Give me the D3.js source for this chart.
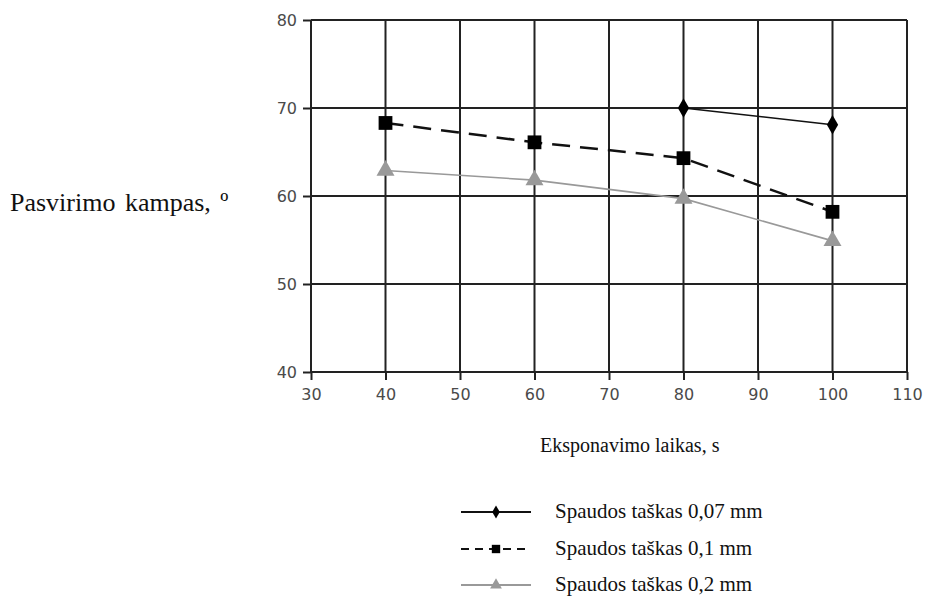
<!DOCTYPE html>
<html>
<head>
<meta charset="utf-8">
<script src="https://cdn.jsdelivr.net/npm/d3@7"></script>
<style>
  body { margin: 0; background: #fff; }
  .tick text { font-family: "DejaVu Sans", Verdana, sans-serif; fill: #4a4a4a; }
  .title { font-family: "Liberation Serif", "Times New Roman", serif; font-size: 21px; fill: #111; }
</style>
</head>
<body>
<svg id="chart"></svg>
<script>
// values
let xTicks = [30, 40, 50, 60, 70, 80, 90, 100, 110];
let yTicks = [40, 50, 60, 70, 80];
let seriesNames = ["Spaudos taškas 0,07 mm", "Spaudos taškas 0,1 mm", "Spaudos taškas 0,2 mm"];
let x007 = [80, 100];
let y007 = [70, 68.1];
let x01 = [40, 60, 80, 100];
let y01 = [68.3, 66.1, 64.3, 58.2];
let x02 = [40, 60, 80, 100];
let y02 = [62.9, 61.8, 59.7, 54.9];

function makeChart() {
  let w = 925, h = 601;
  let svg = d3.select("#chart").attr("width", w).attr("height", h);

  let x = d3.scaleLinear().domain([30, 110]).range([311, 907]);
  let y = d3.scaleLinear().domain([40, 80]).range([372, 20]);

  // grid
  svg.append("g").selectAll("line").data(xTicks).enter().append("line")
    .attr("x1", d => x(d)).attr("x2", d => x(d))
    .attr("y1", y(80)).attr("y2", y(40))
    .attr("stroke", "#222").attr("stroke-width", 2);
  svg.append("g").selectAll("line").data(yTicks).enter().append("line")
    .attr("x1", x(30)).attr("x2", x(110))
    .attr("y1", d => y(d)).attr("y2", d => y(d))
    .attr("stroke", "#222").attr("stroke-width", 2);

  let xAxis = svg.append("g").attr("transform", "translate(0," + y(40) + ")")
    .call(d3.axisBottom(x).tickValues(xTicks).tickSize(8).tickPadding(9));
  let yAxis = svg.append("g").attr("transform", "translate(" + x(30) + ",0)")
    .call(d3.axisLeft(y).tickValues(yTicks).tickSize(8).tickPadding(6));
  [xAxis, yAxis].forEach(a => {
    a.select(".domain").remove();
    a.selectAll(".tick line").attr("stroke", "#222").attr("stroke-width", 2);
    a.selectAll(".tick text").attr("font-size", "16px");
  });

  let line = d3.line().x(d => x(d[0])).y(d => y(d[1]));
  let s1 = d3.zip(x007, y007), s2 = d3.zip(x01, y01), s3 = d3.zip(x02, y02);

  svg.append("path").datum(s3).attr("d", line)
    .attr("fill", "none").attr("stroke", "#999").attr("stroke-width", 1.6);
  svg.append("path").datum(s2).attr("d", line)
    .attr("fill", "none").attr("stroke", "#111").attr("stroke-width", 2.5)
    .attr("stroke-dasharray", "18,10");
  svg.append("path").datum(s1).attr("d", line)
    .attr("fill", "none").attr("stroke", "#111").attr("stroke-width", 1.6);

  let diamond = d3.symbol().type(d3.symbolDiamond).size(110);
  let square = d3.symbol().type(d3.symbolSquare).size(190);
  let triangle = d3.symbol().type(d3.symbolTriangle).size(140);

  svg.append("g").selectAll("path").data(s1).enter().append("path")
    .attr("d", diamond).attr("fill", "#000")
    .attr("transform", d => "translate(" + x(d[0]) + "," + y(d[1]) + ")");
  svg.append("g").selectAll("path").data(s2).enter().append("path")
    .attr("d", square).attr("fill", "#000")
    .attr("transform", d => "translate(" + x(d[0]) + "," + y(d[1]) + ")");
  svg.append("g").selectAll("path").data(s3).enter().append("path")
    .attr("d", triangle).attr("fill", "#999")
    .attr("transform", d => "translate(" + x(d[0]) + "," + y(d[1]) + ")");

  // axis titles
  svg.append("text").classed("title", true)
    .attr("x", 10).attr("y", 211)
    .style("font-size", "26px").style("word-spacing", "3px")
    .text("Pasvirimo kampas, º");
  svg.append("text").classed("title", true)
    .attr("x", 540).attr("y", 452).style("font-size", "20px")
    .text("Eksponavimo laikas, s");

  // legend
  let legY = [512, 549, 585];
  let legStyles = [
    { stroke: "#111", width: 1.8, dash: null, sym: d3.symbol().type(d3.symbolDiamond).size(50), fill: "#000" },
    { stroke: "#111", width: 2, dash: "8,6", sym: d3.symbol().type(d3.symbolSquare).size(70), fill: "#000" },
    { stroke: "#999", width: 1.8, dash: null, sym: d3.symbol().type(d3.symbolTriangle).size(60), fill: "#999" }
  ];
  let leg = svg.append("g").selectAll("g").data(seriesNames).enter().append("g")
    .attr("transform", (d, i) => "translate(0," + legY[i] + ")");
  leg.append("line").attr("x1", 461).attr("x2", 531).attr("y1", 0).attr("y2", 0)
    .attr("stroke", (d, i) => legStyles[i].stroke)
    .attr("stroke-width", (d, i) => legStyles[i].width)
    .attr("stroke-dasharray", (d, i) => legStyles[i].dash);
  leg.append("path").attr("d", (d, i) => legStyles[i].sym())
    .attr("fill", (d, i) => legStyles[i].fill)
    .attr("transform", "translate(496,0)");
  leg.append("text").classed("title", true)
    .attr("x", 555).attr("y", 6).text(d => d);
}

window.onload = function() {
  makeChart();
}
</script>
</body>
</html>
